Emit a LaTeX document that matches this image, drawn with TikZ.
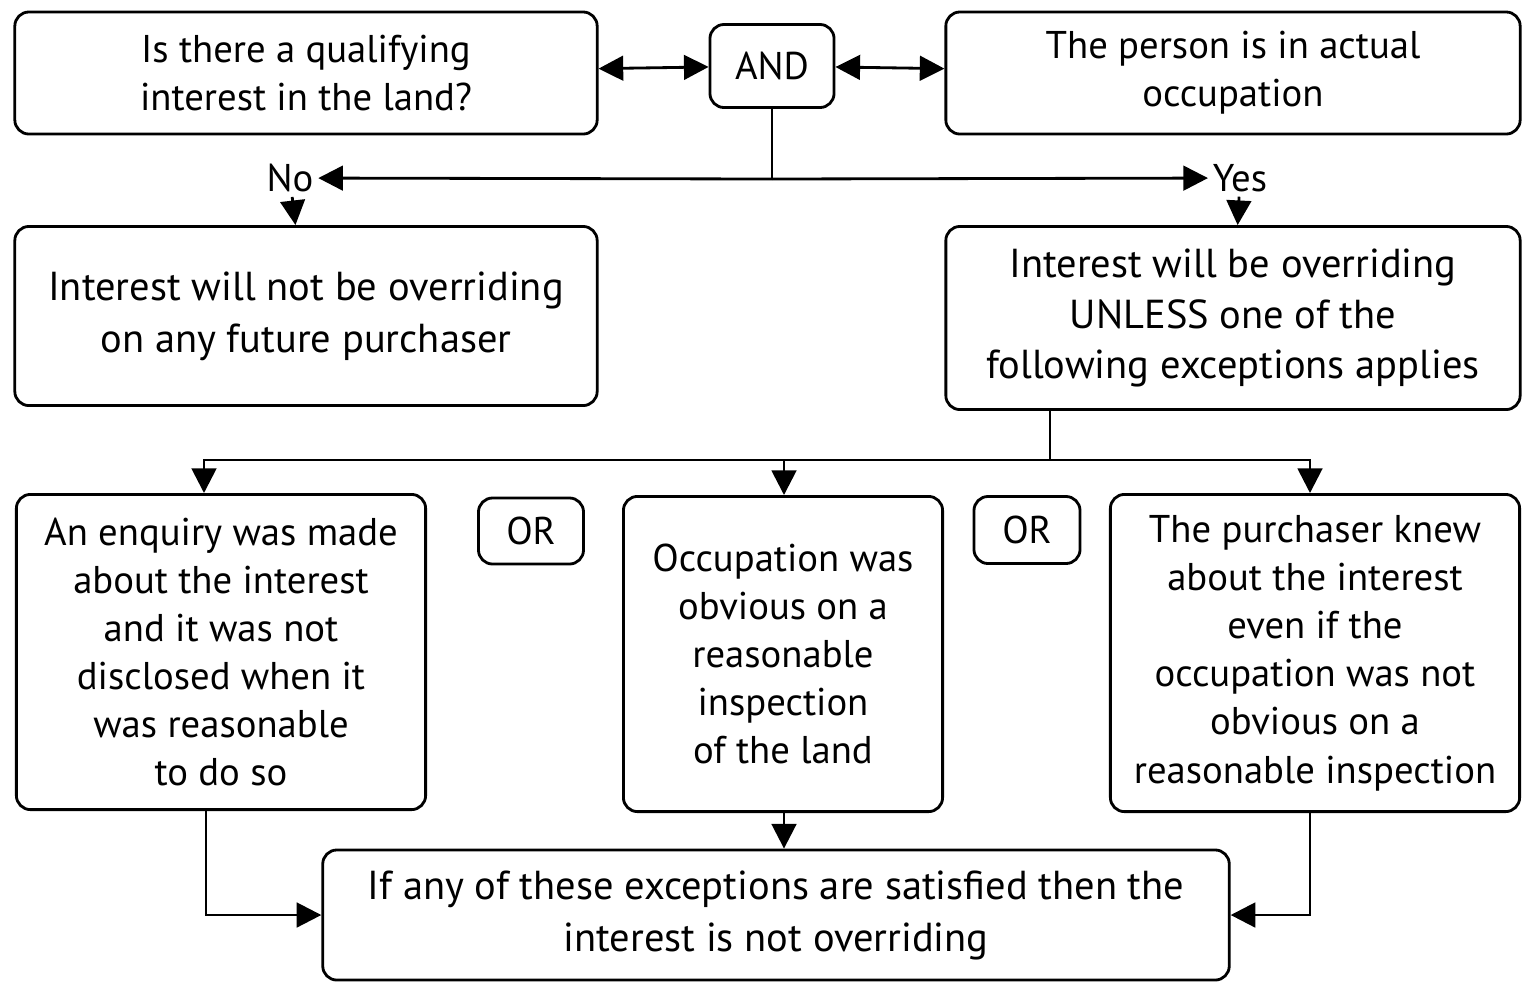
\documentclass[tikz,border=0pt]{standalone}
\usepackage{fontspec}
\setmainfont{PT Sans}
\usetikzlibrary{arrows.meta,positioning}
\begin{document}
\begin{tikzpicture}[x=0.01cm,y=-0.01cm,% all positions in reference pixels
			every node/.style={align=center,font=\fontsize{11}{13.7}\selectfont},
			box/.style={rectangle,rounded corners=4pt,draw=black,thick,inner sep=2pt},
			lbl/.style={inner sep=1pt},
			every path/.style={thick},
			>={Triangle[length=7pt,width=7pt]}
		]
		\useasboundingbox (0,0) rectangle (1536,999);
		\node[box,minimum width=5.82cm,minimum height=1.22cm](Q) at (306,73){Is there a qualifying\\interest in the land?};
		\node[box,minimum width=1.24cm,minimum height=0.83cm](AND) at (772,66){AND};
		\node[box,minimum width=5.74cm,minimum height=1.22cm](P) at (1233,73){The person is in actual\\occupation};
		\node[lbl](No) at (290,178){No};
		\node[lbl](Yes) at (1240,178){Yes};
		\coordinate (J) at (772,179);
		\node[box,minimum width=5.82cm,minimum height=1.79cm,font=\fontsize{11.5}{14.8}\selectfont](N) at (306,316){Interest will not be overriding\\on any future purchaser};
		\node[box,minimum width=5.74cm,minimum height=1.83cm,font=\fontsize{11.5}{14.3}\selectfont](Y) at (1233,318){Interest will be overriding\\UNLESS one of the\\following exceptions applies};
		\node[box,minimum width=4.09cm,minimum height=3.15cm](A) at (221,652){An enquiry was made\\about the interest\\and it was not\\disclosed when it\\was reasonable\\to do so};
		\node[box,minimum width=1.05cm,minimum height=0.66cm](OR1) at (531,531){OR};
		\node[box,minimum width=3.19cm,minimum height=3.15cm](B) at (783,654){Occupation was\\obvious on a\\reasonable\\inspection\\of the land};
		\node[box,minimum width=1.06cm,minimum height=0.67cm](OR2) at (1027,530){OR};
		\node[box,minimum width=4.09cm,minimum height=3.17cm](C) at (1315,653){The purchaser knew\\about the interest\\even if the\\occupation was not\\obvious on a\\reasonable inspection};
		\node[box,minimum width=9.06cm,minimum height=1.30cm,font=\fontsize{11.5}{14.8}\selectfont](E) at (776,915){If any of these exceptions are satisfied then the\\interest is not overriding};
		% connectors
		\draw[<->] (Q) -- (AND);
		\draw[<->] (AND) -- (P);
		\draw (AND) -- (J);
		\draw[->] (J) -- (No);
		\draw[->] (J) -- (Yes);
		\draw[->] (No) -- (N);
		\draw[->] (Yes) -- (Y);
		\coordinate (S) at (1050,460);
		\draw (Y.south -| S) -- (S);
		\draw[->] (S) -| (A.north -| 204,0);
		\draw[->] (S) -| (B.north -| 784,0);
		\draw[->] (S) -| (C.north -| 1310,0);
		\draw[->] (A.south -| 206,0) |- (E.west);
		\draw[->] (B.south -| 784,0) -- (E.north -| 784,0);
		\draw[->] (C.south -| 1310,0) |- (E.east);
	\end{tikzpicture}
\end{document}
